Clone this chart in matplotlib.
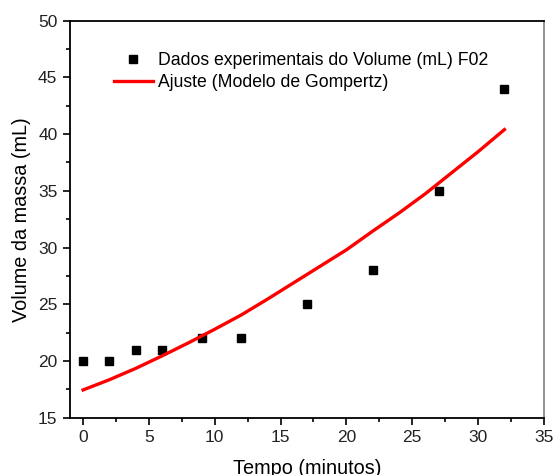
import matplotlib
matplotlib.use("Agg")
import matplotlib.pyplot as plt
from matplotlib.ticker import MultipleLocator

plt.rcParams['font.family'] = ['Liberation Sans', 'DejaVu Sans']

tempo = [0, 2, 4, 6, 9, 12, 17, 22, 27, 32]
volume = [20, 20, 21, 21, 22, 22, 25, 28, 35, 44]

fit_x = [0, 2, 4, 6, 8, 10, 12, 14, 16, 18, 20, 22, 24, 26, 28, 30, 32]
fit_y = [17.45, 18.35, 19.35, 20.45, 21.6, 22.8, 24.05, 25.45, 26.9, 28.35,
         29.8, 31.45, 33.05, 34.75, 36.6, 38.45, 40.4]

fig = plt.figure(figsize=(5.55, 4.75), dpi=100)
ax = fig.add_axes([0.126, 0.1206, 0.854, 0.8358])

ax.plot(tempo, volume, 's', color='black', markersize=5.5, linestyle='none',
        label='Dados experimentais do Volume (mL) F02')
ax.plot(fit_x, fit_y, '-', color='#ff0000', linewidth=2.4,
        solid_joinstyle='round', label='Ajuste (Modelo de Gompertz)')

ax.set_xlim(-1, 35)
ax.set_ylim(15, 50)
ax.xaxis.set_major_locator(MultipleLocator(5))
ax.xaxis.set_minor_locator(MultipleLocator(2.5))
ax.yaxis.set_major_locator(MultipleLocator(5))
ax.yaxis.set_minor_locator(MultipleLocator(2.5))
ax.tick_params(which='major', direction='out', length=5, width=1.2, labelsize=12.5,
               labelcolor='#222222', top=False, right=False, pad=4)
ax.tick_params(which='minor', direction='out', length=3, width=1.2, top=False, right=False)

for s in ['left', 'bottom', 'top']:
    ax.spines[s].set_linewidth(1.3)
    ax.spines[s].set_color('black')
ax.spines['right'].set_linewidth(1.3)
ax.spines['right'].set_color('#888888')

ax.set_xlabel('Tempo (minutos)', fontsize=14.3, labelpad=10)
ax.set_ylabel('Volume da massa (mL)', fontsize=14.3, labelpad=5)

ax.legend(loc='upper left', bbox_to_anchor=(0.093, 0.922), frameon=False,
          fontsize=12.7, handlelength=2.2, handletextpad=0.3, labelspacing=0.3,
          borderaxespad=0, borderpad=0)

fig.savefig('out.png', dpi=100)
